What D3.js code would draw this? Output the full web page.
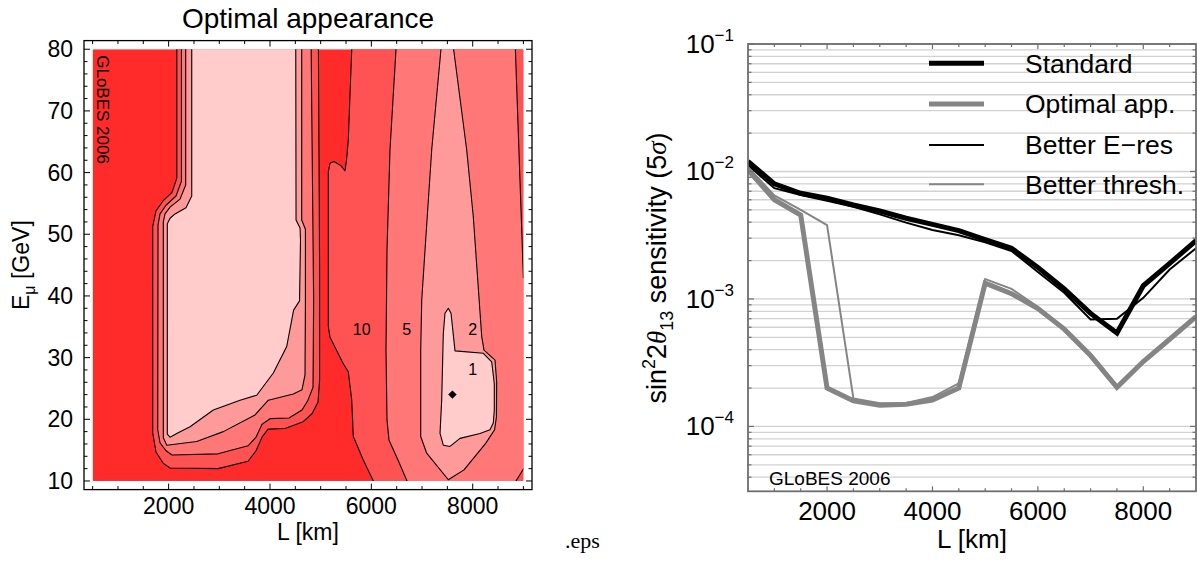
<!DOCTYPE html>
<html><head><meta charset="utf-8">
<script src="https://cdn.jsdelivr.net/npm/d3@7"></script>
<style>
body{margin:0;background:#fff;}
svg{display:block;font-family:"Liberation Sans",Arial,Helvetica,sans-serif;}
</style></head><body>
<svg id="chart" width="1197" height="561"></svg>
<script>
// ---------------- LEFT PANEL DATA (L [km], E_mu [GeV]) ----------------
const leftXTicks = [2000, 4000, 6000, 8000];
const leftYTicks = [10, 20, 30, 40, 50, 60, 70, 80];
// contour polygons (closed), ordered outer -> inner
const blob10 = [[2162,82],[2162,59.1],[2067,56.8],[1890,55.4],[1751,53.8],[1686,51.3],[1686,17.8],[1751,14.7],[1890,12.9],[2028,12.1],[2975,12.0],[3567,13.2],[3724,14.9],[3843,17.1],[3961,18.4],[4297,18.5],[4652,19.6],[4829,20.9],[4948,22.8],[4979,26.4],[4979,44.2],[4954,82]];
const blob5 = [[2253,82],[2253,58.6],[2146,56.2],[1949,54.7],[1830,53.3],[1791,51.5],[1785,18.3],[1830,16.2],[1949,14.9],[2067,14.2],[2975,14.4],[3567,15.7],[3724,17.1],[3843,19.2],[4001,20.1],[4375,20.2],[4632,21.5],[4750,23.1],[4849,25.2],[4861,39.3],[4810,82]];
const blob2 = [[2337,82],[2337,58.0],[2225,55.7],[2028,54.4],[1929,53.3],[1895,52.0],[1895,17.0],[1963,15.8],[2554,16.4],[3079,18.0],[3705,20.7],[3967,23.1],[4460,24.1],[4632,24.8],[4691,27.2],[4699,39.3],[4699,50.8],[4626,52.3],[4626,82]];
const blob1 = [[2456,82],[2456,56.2],[2343,54.3],[2126,53.3],[2028,52.6],[1974,51.7],[1974,17.6],[2028,17.1],[2160,17.7],[2422,18.8],[2882,21.5],[3409,23.1],[3738,23.9],[4066,27.5],[4330,31.8],[4466,37.7],[4583,39.2],[4602,49.1],[4593,51.0],[4514,52.3],[4508,82]];
const right10 = [[5613,82],[5613,80],[5545,65.3],[5510,62.0],[5480,60.3],[5401,61.1],[5263,61.8],[5184,61.5],[5151,60.1],[5151,35.1],[5184,33.3],[5441,29.1],[5545,27.7],[5613,23.1],[5644,17.2],[5841,13.4],[6039,10],[6097,9],[9200,9],[9200,82]];
const right5 = [[6487,82],[6487,80],[6427,71.8],[6368,63.7],[6309,47.4],[6289,31.2],[6309,19.9],[6349,16.6],[6526,13.4],[6704,10],[6756,9],[8780,9],[8854,10],[9000,11.95],[9200,11.95],[9200,43],[9000,43],[8842,80],[8842,82]];
const right2 = [[7374,82],[7374,80],[7191,63.7],[7059,47.4],[6994,39.3],[6974,31.2],[6974,17.2],[7092,14.5],[7519,10.2],[7828,11.8],[8256,16.1],[8432,18.3],[8468,20.4],[8473,26],[8440,29.6],[8223,31.2],[8178,33.4],[8012,52.8],[7881,63.7],[7623,80],[7623,82]];
const right1 = [[7519,38.0],[7453,37.2],[7420,33.9],[7388,23.1],[7355,17.7],[7420,15.8],[7552,15.6],[7749,16.9],[8144,17.7],[8341,18.3],[8406,19.4],[8426,21.5],[8426,25.8],[8375,29.3],[8209,30.7],[7651,31.1],[7572,37.2]];
const contourLabelText = ["10", "5", "2", "1"];
const contourLabelL = [5810, 6698, 8000, 8000];
const contourLabelE = [34.5, 34.5, 34.5, 28.0];
const optimumPoint = [7600, 24];

// ---------------- RIGHT PANEL DATA ----------------
const baselines = [500,1000,1500,2000,2500,3000,3500,4000,4500,5000,5500,6000,6500,7000,7500,8000,8500,9000];
const standard     = [0.0120,0.0080,0.00675,0.00616,0.00546,0.0049,0.0043,0.00385,0.00344,0.00292,0.0025,0.00177,0.0012,0.00077,0.00054,0.00127,0.0019,0.00287];
const optimalApp   = [0.0103,0.0060,0.00456,0.000200,0.000159,0.000147,0.000149,0.000161,0.000200,0.00133,0.00110,0.00084,0.00058,0.00036,0.000203,0.000323,0.000483,0.000726];
const betterERes   = [0.0112,0.0074,0.00655,0.0059,0.00529,0.00461,0.00397,0.00348,0.00316,0.00278,0.00238,0.00163,0.00112,0.00069,0.00070,0.00102,0.0017,0.0025];
const betterThresh = [0.0108,0.0065,0.00499,0.0038,0.000166,0.000152,0.000153,0.000170,0.000218,0.00143,0.00120,0.00087,0.00059,0.00036,0.000205,0.000325,0.000485,0.000728];
const seriesNames = ["Standard", "Optimal app.", "Better E\u2212res", "Better thresh."];
const rightXTicks = [2000, 4000, 6000, 8000];
const rightYExponents = [-1, -2, -3, -4];

// ---------------- STYLE ----------------
const bandColors = ["#ff2b2b", "#ff5252", "#ff7777", "#ff9a9a", "#ffcbcb"];
const seriesStyle = [
  {color:"#000000", width:5},
  {color:"#858585", width:5},
  {color:"#000000", width:2},
  {color:"#858585", width:2}
];

const svg = d3.select("#chart");

// ================= LEFT PANEL =================
const xL = d3.scaleLinear().domain([330, 9170]).range([84, 532]);
const yL = d3.scaleLinear().domain([8.6, 81.4]).range([489.6, 40.6]);

svg.append("defs").append("clipPath").attr("id","clipL")
  .append("rect").attr("x", xL(500)).attr("y", yL(80))
  .attr("width", xL(9000)-xL(500)).attr("height", yL(10)-yL(80));
svg.select("defs").append("clipPath").attr("id","clipR")
  .append("rect").attr("x", 748).attr("y", 44).attr("width", 448).attr("height", 447.3);

const gL = svg.append("g");
const gC = gL.append("g").attr("clip-path","url(#clipL)");
gC.append("rect").attr("x", xL(500)).attr("y", yL(80))
  .attr("width", xL(9000)-xL(500)).attr("height", yL(10)-yL(80))
  .attr("fill", bandColors[0]);

const polyLine = d3.line().x(d => xL(d[0])).y(d => yL(d[1]));
const layers = [[blob10, right10], [blob5, right5], [blob2, right2], [blob1, right1]];
layers.forEach((polys, i) => {
  polys.forEach(p => {
    gC.append("path").attr("d", polyLine(p) + "Z")
      .attr("fill", bandColors[i+1]).attr("stroke", "#000").attr("stroke-width", 1.1)
      .attr("stroke-linejoin","round");
  });
});

// optimum marker
gC.append("path").attr("d", d3.symbol().type(d3.symbolSquare).size(36)())
  .attr("transform", `translate(${xL(optimumPoint[0])},${yL(optimumPoint[1])}) rotate(45)`)
  .attr("fill", "#000");

// contour labels
contourLabelText.forEach((t, i) => {
  gL.append("text").attr("x", xL(contourLabelL[i])).attr("y", yL(contourLabelE[i]) + 5.5)
    .attr("text-anchor","middle").style("font-size","16px").text(t);
});

// GLoBES watermark
gL.append("text").attr("transform", `translate(${xL(500)+4.5},${yL(80)+6}) rotate(90)`)
  .style("font-size","17px").text("GLoBES 2006");

// frame
const fx0 = xL(330), fx1 = xL(9170), fy0 = yL(81.4), fy1 = yL(8.6);
gL.append("rect").attr("x", fx0).attr("y", fy0).attr("width", fx1-fx0).attr("height", fy1-fy0)
  .attr("fill","none").attr("stroke","#000").attr("stroke-width",1.3);
// ticks
d3.range(500, 9001, 500).forEach(v => {
  const len = v % 2000 === 0 ? 6 : 3.5;
  gL.append("line").attr("x1", xL(v)).attr("x2", xL(v)).attr("y1", fy1).attr("y2", fy1-len).attr("stroke","#000").attr("stroke-width",1);
  gL.append("line").attr("x1", xL(v)).attr("x2", xL(v)).attr("y1", fy0).attr("y2", fy0+len).attr("stroke","#000").attr("stroke-width",1);
});
d3.range(10, 81, 2).forEach(v => {
  const len = v % 10 === 0 ? 6 : 3.5;
  gL.append("line").attr("y1", yL(v)).attr("y2", yL(v)).attr("x1", fx0).attr("x2", fx0+len).attr("stroke","#000").attr("stroke-width",1);
  gL.append("line").attr("y1", yL(v)).attr("y2", yL(v)).attr("x1", fx1).attr("x2", fx1-len).attr("stroke","#000").attr("stroke-width",1);
});
leftXTicks.forEach(v => {
  gL.append("text").attr("x", xL(v)).attr("y", 514).attr("text-anchor","middle")
    .style("font-size","23px").text(v);
});
leftYTicks.forEach(v => {
  gL.append("text").attr("x", 73).attr("y", yL(v)+8).attr("text-anchor","end")
    .style("font-size","23px").text(v);
});
gL.append("text").attr("x", (fx0+fx1)/2).attr("y", 28).attr("text-anchor","middle")
  .style("font-size","28px").text("Optimal appearance");
gL.append("text").attr("x", (fx0+fx1)/2).attr("y", 540).attr("text-anchor","middle")
  .style("font-size","23px").text("L [km]");
const yl = gL.append("text").attr("transform", `translate(29,${(fy0+fy1)/2}) rotate(-90)`)
  .attr("text-anchor","middle").style("font-size","23px");
yl.append("tspan").text("E");
yl.append("tspan").attr("dy", 6).style("font-size","16px").text("\u03bc");
yl.append("tspan").attr("dy", -6).text(" [GeV]");

// .eps remnant
svg.append("text").attr("x", 565).attr("y", 548).style("font-family","'Liberation Serif', serif")
  .style("font-size","22px").text(".eps");

// ================= RIGHT PANEL =================
const xR = d3.scaleLinear().domain([500, 9000]).range([748, 1196]);
const yR = d3.scaleLog().domain([3.1e-5, 0.1]).range([491.3, 44]);
const gR = svg.append("g");

// gridlines
const gridVals = [];
[-5,-4,-3,-2].forEach(k => d3.range(1,10).forEach(m => {
  const v = m*Math.pow(10,k);
  if (v >= 3.1e-5 && v <= 0.1) gridVals.push(v);
}));
gridVals.push(0.1);
gridVals.forEach(v => {
  gR.append("line").attr("x1", 748).attr("x2", 1196).attr("y1", yR(v)).attr("y2", yR(v))
    .attr("stroke","#d2d2d2").attr("stroke-width",1.3);
});

// series
const lineR = d3.line().x((d,i) => xR(baselines[i])).y(d => yR(d));
const allSeries = [standard, optimalApp, betterERes, betterThresh];
const gLines = gR.append("g").attr("clip-path","url(#clipR)");
allSeries.forEach((s, i) => {
  gLines.append("path").attr("d", lineR(s)).attr("fill","none")
    .attr("stroke", seriesStyle[i].color).attr("stroke-width", seriesStyle[i].width)
    .attr("stroke-linejoin","miter");
});

// legend
const legY = [63.3, 104, 145, 184.3];
seriesNames.forEach((n, i) => {
  gR.append("line").attr("x1", 929).attr("x2", 984).attr("y1", legY[i]).attr("y2", legY[i])
    .attr("stroke", seriesStyle[i].color).attr("stroke-width", seriesStyle[i].width);
  gR.append("text").attr("x", 1025).attr("y", legY[i]+9.3).style("font-size","26.5px").text(n);
});

// frame
gR.append("rect").attr("x", 748).attr("y", 44).attr("width", 448).attr("height", 447.3)
  .attr("fill","none").attr("stroke","#6e6e6e").attr("stroke-width",1.8);
d3.range(1000, 9000, 500).forEach(v => {
  const len = v % 2000 === 0 ? 5 : 3;
  gR.append("line").attr("x1", xR(v)).attr("x2", xR(v)).attr("y1", 491.3).attr("y2", 491.3-len).attr("stroke","#6e6e6e").attr("stroke-width",1.2);
  gR.append("line").attr("x1", xR(v)).attr("x2", xR(v)).attr("y1", 44).attr("y2", 44+len).attr("stroke","#6e6e6e").attr("stroke-width",1.2);
});
gridVals.forEach(v => {
  const major = Math.abs(Math.log10(v) - Math.round(Math.log10(v))) < 1e-9;
  const len = major ? 6 : 3.5;
  gR.append("line").attr("x1", 748).attr("x2", 748+len).attr("y1", yR(v)).attr("y2", yR(v)).attr("stroke","#6e6e6e").attr("stroke-width",1.2);
  gR.append("line").attr("x1", 1196).attr("x2", 1196-len).attr("y1", yR(v)).attr("y2", yR(v)).attr("stroke","#6e6e6e").attr("stroke-width",1.2);
});
rightXTicks.forEach(v => {
  gR.append("text").attr("x", xR(v)).attr("y", 520).attr("text-anchor","middle")
    .style("font-size","26px").text(v);
});
rightYExponents.forEach(k => {
  const t = gR.append("text").attr("x", 734).attr("y", yR(Math.pow(10,k))+9)
    .attr("text-anchor","end").style("font-size","26px");
  t.append("tspan").text("10");
  t.append("tspan").attr("dy", -12).style("font-size","17px").text("\u2212" + (-k));
});
gR.append("text").attr("x", 972).attr("y", 548).attr("text-anchor","middle")
  .style("font-size","26px").text("L [km]");
gR.append("text").attr("x", 769).attr("y", 485).style("font-size","19px").text("GLoBES 2006");

const ry = gR.append("text").attr("transform", "translate(666,268) rotate(-90)")
  .attr("text-anchor","middle").style("font-size","27px");
ry.append("tspan").text("sin");
ry.append("tspan").attr("dy", -11).style("font-size","18px").text("2");
ry.append("tspan").attr("dy", 11).text("2");
ry.append("tspan").style("font-family","'Liberation Serif', serif").style("font-style","italic").text("\u03b8");
ry.append("tspan").attr("dy", 7).style("font-size","18px").text("13");
ry.append("tspan").attr("dy", -7).text(" sensitivity (5");
ry.append("tspan").style("font-family","'Liberation Serif', serif").style("font-style","italic").text("\u03c3");
ry.append("tspan").text(")");
</script>
</body></html>
